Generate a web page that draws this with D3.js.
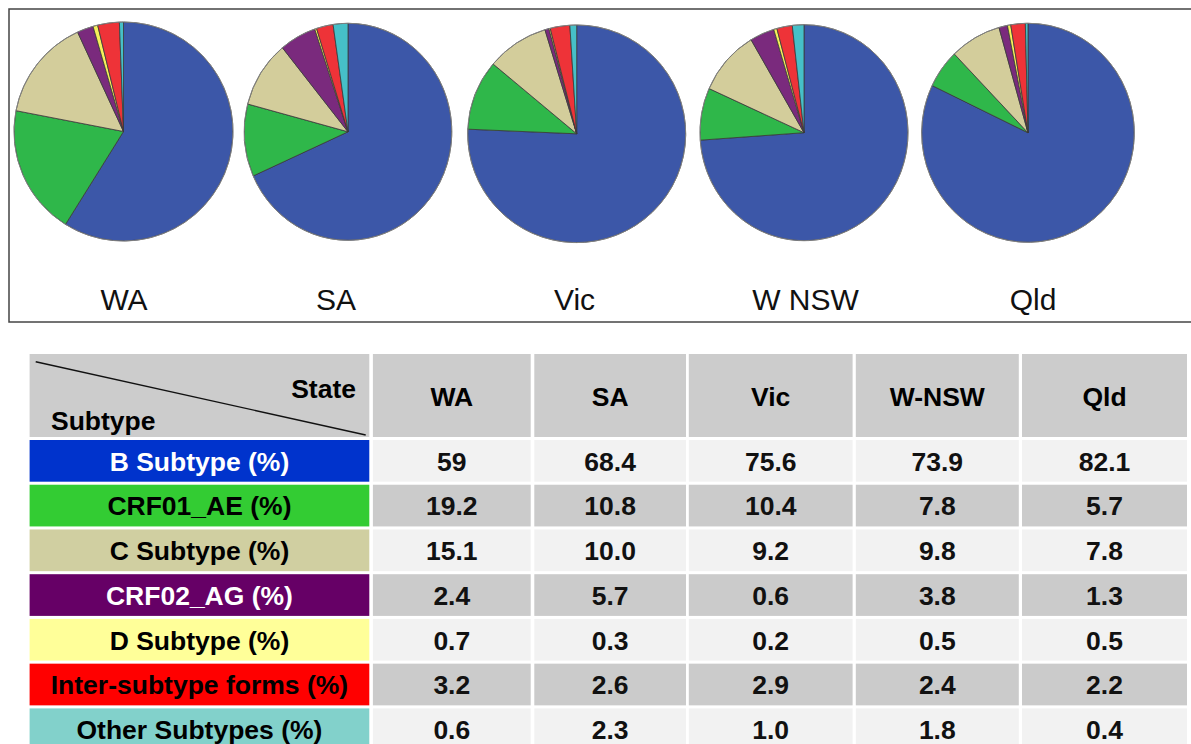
<!DOCTYPE html>
<html>
<head>
<meta charset="utf-8">
<script src="https://cdn.jsdelivr.net/npm/d3@7"></script>
<style>
  html, body { margin: 0; padding: 0; background: #fff; }
  svg { display: block; font-family: "Liberation Sans", Arial, sans-serif; }
</style>
</head>
<body>
<svg id="chart" width="1191" height="744"></svg>
<script>
// ---- data ----
const pieStates = ["WA", "SA", "Vic", "W NSW", "Qld"];
const tableStates = ["WA", "SA", "Vic", "W-NSW", "Qld"];
const subtypes = [
  "B Subtype (%)", "CRF01_AE (%)", "C Subtype (%)", "CRF02_AG (%)",
  "D Subtype (%)", "Inter-subtype forms (%)", "Other Subtypes (%)"
];
// percentages per state, in the order WA, SA, Vic, W-NSW, Qld
const bSubtype     = ["59",   "68.4", "75.6", "73.9", "82.1"];
const crf01AE      = ["19.2", "10.8", "10.4", "7.8",  "5.7"];
const cSubtype     = ["15.1", "10.0", "9.2",  "9.8",  "7.8"];
const crf02AG      = ["2.4",  "5.7",  "0.6",  "3.8",  "1.3"];
const dSubtype     = ["0.7",  "0.3",  "0.2",  "0.5",  "0.5"];
const interSubtype = ["3.2",  "2.6",  "2.9",  "2.4",  "2.2"];
const otherSubtype = ["0.6",  "2.3",  "1.0",  "1.8",  "0.4"];
const seriesRows = [bSubtype, crf01AE, cSubtype, crf02AG, dSubtype, interSubtype, otherSubtype];

// ---- styles ----
const pieColors   = ["#3c57a8", "#2fb74a", "#d3cd9b", "#7a2a7d", "#f6f05a", "#ee3338", "#46c0c8"];
const cellColors  = ["#0033cc", "#33cc33", "#d0cfa1", "#660066", "#ffff99", "#ff0000", "#82d1cb"];
const cellText    = ["#fff", "#000", "#000", "#fff", "#000", "#000", "#000"];
const rowShades   = ["#f2f2f2", "#cbcbcb"];

const svg = d3.select("#chart");

// ---- top panel: one pie per state ----
svg.append("rect")
  .attr("x", 9).attr("y", 9).attr("width", 1200).attr("height", 313)
  .attr("fill", "none").attr("stroke", "#444").attr("stroke-width", 1.5);

// pie geometry (slightly elliptical discs)
const pieLayout = [
  { cx: 123.5, cy: 131.5, rx: 109.5, ry: 109.5, lx: 124 },
  { cx: 348,   cy: 131.8, rx: 103.8, ry: 108.5, lx: 336 },
  { cx: 576.7, cy: 133.8, rx: 109,   ry: 108.8, lx: 574.5 },
  { cx: 804,   cy: 132.7, rx: 104,   ry: 108,   lx: 805.5 },
  { cx: 1028,  cy: 132.8, rx: 106.3, ry: 109.5, lx: 1033 }
];

const pie = d3.pie().sort(null).value(d => d.v);

pieStates.forEach((state, i) => {
  const L = pieLayout[i];
  const slices = seriesRows.map((row, k) => ({ v: +row[i], k }));
  const arc = d3.arc().innerRadius(0).outerRadius(L.ry);
  const g = svg.append("g")
    .attr("transform", `translate(${L.cx},${L.cy}) scale(${L.rx / L.ry},1)`);
  g.selectAll("path")
    .data(pie(slices))
    .join("path")
    .attr("d", arc)
    .attr("fill", d => pieColors[d.data.k])
    .attr("stroke", "#3a3a3a")
    .attr("stroke-width", 0.8)
    .attr("stroke-linejoin", "round")
    .attr("vector-effect", "non-scaling-stroke");
  g.append("ellipse")
    .attr("rx", L.ry).attr("ry", L.ry)
    .attr("fill", "none").attr("stroke", "#8a8a8a").attr("stroke-width", 0.8)
    .attr("vector-effect", "non-scaling-stroke");

  svg.append("text")
    .attr("x", L.lx).attr("y", 310)
    .attr("text-anchor", "middle")
    .attr("font-size", 30)
    .attr("fill", "#111")
    .text(state);
});

// ---- bottom panel: table ----
const colEdges = [[29.6, 369.3], [372.9, 530.7], [534.3, 686], [688.8, 852.6], [855.8, 1018.8], [1022, 1187]];
const headerTop = 354, headerBottom = 437;
const rowY = d3.scaleBand().domain(d3.range(subtypes.length))
  .range([440, 440 + 44.3 * subtypes.length]).paddingInner(3 / 44.3).paddingOuter(0).align(0);

const fontSize = 26.5;

// header row
const header = svg.append("g");
colEdges.forEach(([x0, x1]) => {
  header.append("rect")
    .attr("x", x0).attr("y", headerTop).attr("width", x1 - x0).attr("height", headerBottom - headerTop)
    .attr("fill", "#cccccc");
});
header.append("line")
  .attr("x1", 35.7).attr("y1", 361.7).attr("x2", 365.7).attr("y2", 435)
  .attr("stroke", "#111").attr("stroke-width", 1.4);
header.append("text")
  .attr("x", 356).attr("y", 397.5).attr("text-anchor", "end")
  .attr("font-size", fontSize).attr("font-weight", "bold").text("State");
header.append("text")
  .attr("x", 51).attr("y", 430).attr("text-anchor", "start")
  .attr("font-size", fontSize).attr("font-weight", "bold").text("Subtype");
tableStates.forEach((s, j) => {
  const [x0, x1] = colEdges[j + 1];
  header.append("text")
    .attr("x", (x0 + x1) / 2).attr("y", 405.5).attr("text-anchor", "middle")
    .attr("font-size", fontSize).attr("font-weight", "bold").text(s);
});

// data rows
subtypes.forEach((name, r) => {
  const y = rowY(r), h = rowY.bandwidth();
  const g = svg.append("g");
  const [c0, c1] = colEdges[0];
  g.append("rect").attr("x", c0).attr("y", y).attr("width", c1 - c0).attr("height", h)
    .attr("fill", cellColors[r]);
  g.append("text").attr("x", (c0 + c1) / 2).attr("y", y + h / 2 + 9.8)
    .attr("text-anchor", "middle").attr("font-size", fontSize).attr("font-weight", "bold")
    .attr("fill", cellText[r]).text(name);
  seriesRows[r].forEach((val, j) => {
    const [x0, x1] = colEdges[j + 1];
    g.append("rect").attr("x", x0).attr("y", y).attr("width", x1 - x0).attr("height", h)
      .attr("fill", rowShades[r % 2]);
    g.append("text").attr("x", (x0 + x1) / 2).attr("y", y + h / 2 + 9.8)
      .attr("text-anchor", "middle").attr("font-size", fontSize).attr("font-weight", "bold")
      .attr("fill", "#111").text(val);
  });
});
</script>
</body>
</html>
